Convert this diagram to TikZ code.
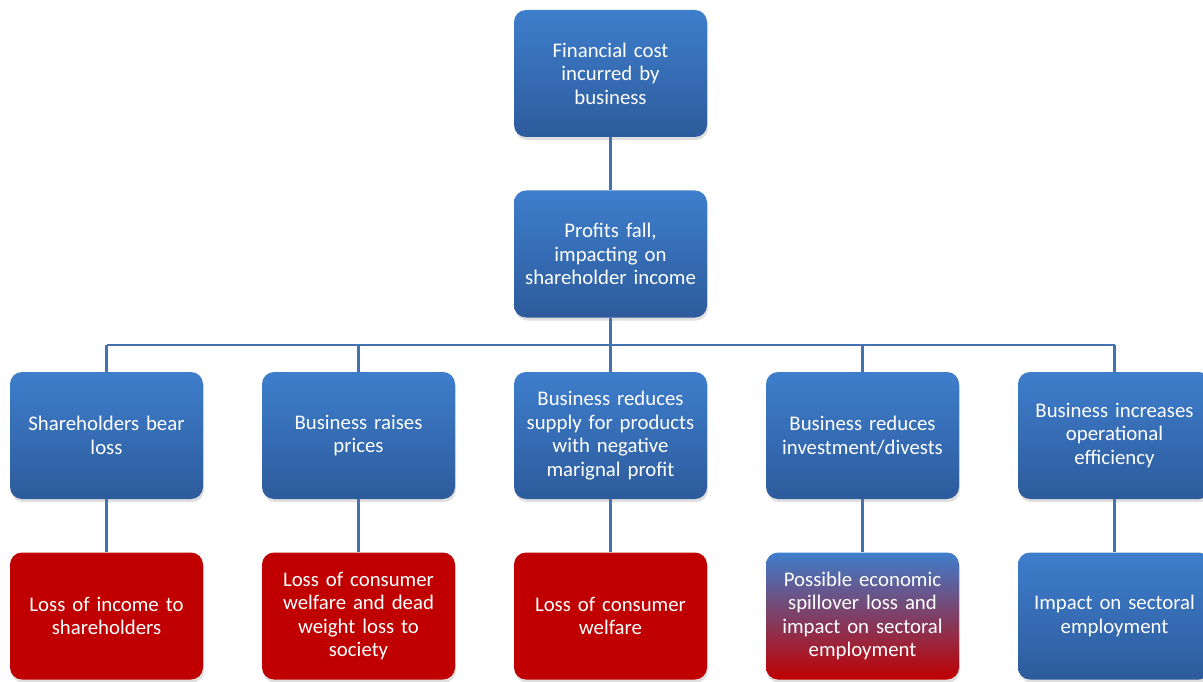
\documentclass[tikz,border=0pt]{standalone}
\usepackage{fontspec}
\setmainfont{Carlito}
\usetikzlibrary{shadows}

\definecolor{boxtop}{RGB}{62,126,204}
\definecolor{boxbot}{RGB}{45,91,156}
\definecolor{losred}{RGB}{192,0,0}
\definecolor{linkblue}{RGB}{68,114,176}

\tikzset{
    box/.style={draw=none, rounded corners=12pt, minimum width=193pt, minimum height=127pt,
        text width=190pt, align=center, text=white, inner xsep=1pt,
        font=\fontsize{20.8}{23.5}\selectfont,
        drop shadow={shadow xshift=1pt, shadow yshift=-3pt, opacity=0.25}},
    bluebox/.style={box, top color=boxtop, bottom color=boxbot},
    redbox/.style={box, fill=losred},
    mixbox/.style={box, top color=boxtop, bottom color=losred},
    link/.style={draw=linkblue, line width=2.5pt}
}

\begin{document}
\begin{tikzpicture}[x=1pt, y=-1pt]
    \useasboundingbox (0, 0) rectangle (1203, 682);

    % Top of the chain
    \node[bluebox] (cost) at (610.5, 73.5) {Financial cost\\incurred by\\business};
    \node[bluebox] (profit) at (610.5, 254) {Profits fall,\\impacting on\\shareholder income};

    % Responses of the business
    \node[bluebox] (bear) at (106.5, 435.5) {Shareholders bear\\loss};
    \node[bluebox] (prices) at (358.5, 435.5) {Business raises\\prices};
    \node[bluebox] (supply) at (610.5, 435.5) {Business reduces\\supply for products\\with negative\\marignal profit};
    \node[bluebox] (invest) at (862.5, 435.5) {Business reduces\\investment/divests};
    \node[bluebox] (effic) at (1114.5, 435.5) {Business increases\\operational\\efficiency};

    % Outcomes
    \node[redbox] (income) at (106.5, 616) {Loss of income to\\shareholders};
    \node[redbox] (welfare) at (358.5, 616) {Loss of consumer\\welfare and dead\\weight loss to\\society};
    \node[redbox] (consumer) at (610.5, 616) {Loss of consumer\\welfare};
    \node[mixbox] (spill) at (862.5, 616) {Possible economic\\spillover loss and\\impact on sectoral\\employment};
    \node[bluebox] (jobs) at (1114.5, 616) {Impact on sectoral\\employment};

    % Connectors
    \coordinate (bus) at (610.5, 345);
    \draw[link] (cost.south) -- (profit.north);
    \draw[link] (profit.south) -- (bus);
    \draw[link] (bear.north |- bus) -- (effic.north |- bus);
    \foreach \a/\b in {bear/income, prices/welfare, supply/consumer, invest/spill, effic/jobs} {
        \draw[link] (\a.north |- bus) -- (\a.north);
        \draw[link] (\a.south) -- (\b.north);
    }
\end{tikzpicture}
\end{document}
